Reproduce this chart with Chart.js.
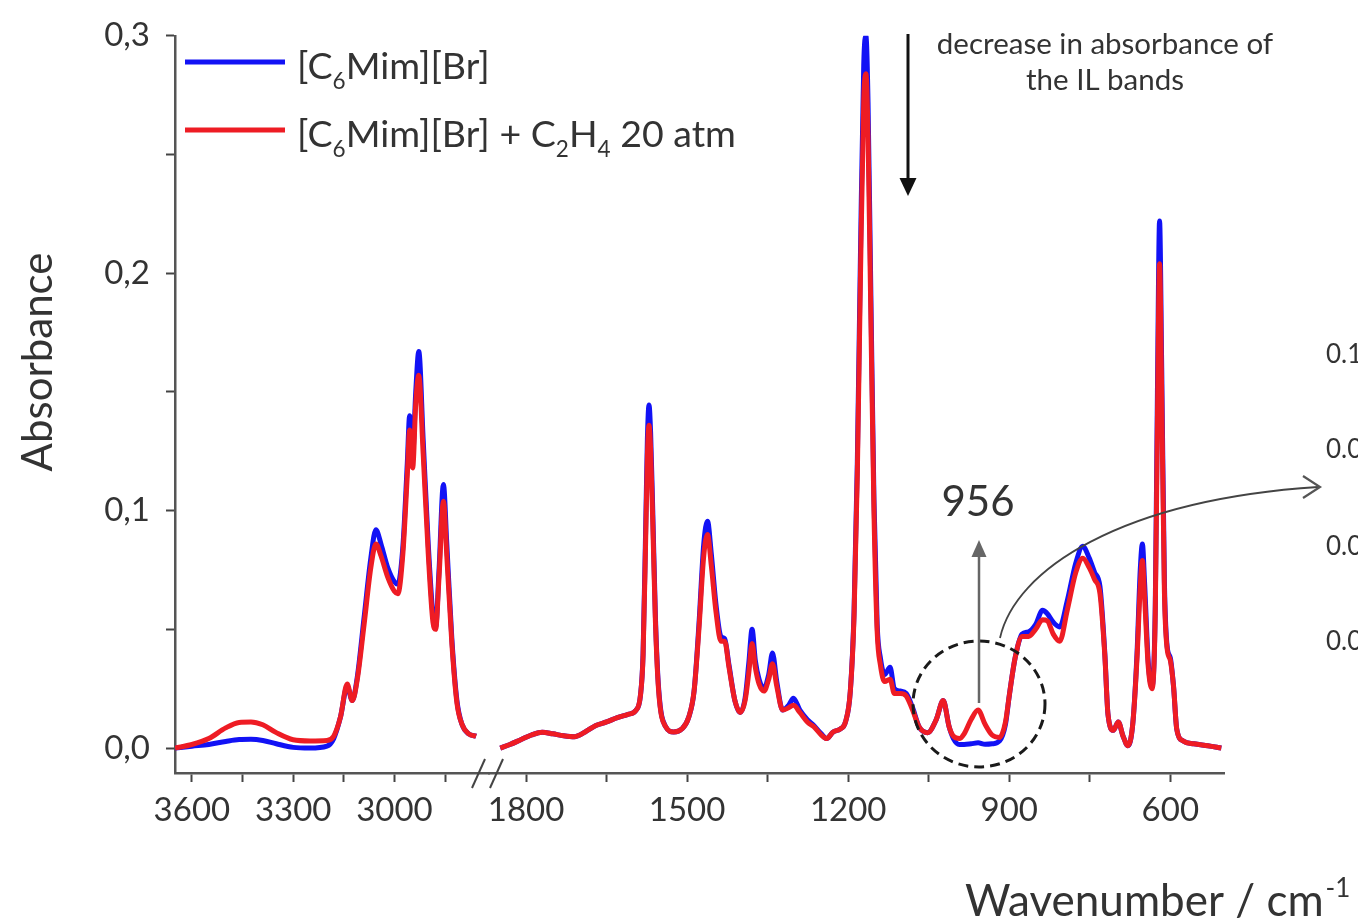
<!DOCTYPE html>
<html>
<head>
<meta charset="utf-8">
<script src="https://cdn.jsdelivr.net/npm/chart.js@4.4.0/dist/chart.umd.min.js"></script>
<style>
  html, body { margin: 0; padding: 0; background: #fff; }
  canvas { display: block; }
</style>
</head>
<body>
<canvas id="spectrum" width="1358" height="924"></canvas>
<script>
// high wavenumber part (left of the axis break)
const leftWn = [3650, 3600, 3550, 3500, 3460, 3425, 3390, 3350, 3300, 3250, 3200, 3180, 3160, 3140, 3125, 3110, 3090, 3070, 3055, 3040, 3020, 3000, 2990, 2975, 2962, 2955, 2946, 2937, 2928, 2915, 2900, 2886, 2878, 2868, 2855, 2845, 2830, 2815, 2800, 2780, 2758];
const leftBlue = [0.000, 0.0008, 0.0015, 0.0028, 0.0036, 0.0037, 0.0032, 0.0018, 0.0003, 0.000, 0.0008, 0.004, 0.013, 0.026, 0.020, 0.030, 0.055, 0.080, 0.092, 0.086, 0.076, 0.070, 0.069, 0.085, 0.120, 0.140, 0.124, 0.150, 0.167, 0.130, 0.086, 0.056, 0.051, 0.075, 0.111, 0.086, 0.046, 0.020, 0.010, 0.006, 0.005];
const leftRed = [0.000, 0.0015, 0.004, 0.0085, 0.0108, 0.011, 0.0098, 0.0065, 0.0035, 0.003, 0.0032, 0.005, 0.013, 0.027, 0.020, 0.029, 0.052, 0.076, 0.086, 0.081, 0.072, 0.066, 0.065, 0.082, 0.115, 0.134, 0.118, 0.145, 0.157, 0.124, 0.082, 0.053, 0.050, 0.072, 0.104, 0.081, 0.044, 0.019, 0.010, 0.006, 0.005];

// fingerprint part (right of the axis break)
const rightWn = [1848, 1830, 1810, 1790, 1770, 1750, 1730, 1710, 1690, 1670, 1650, 1630, 1610, 1595, 1587, 1582, 1577, 1574, 1571, 1568, 1564, 1559, 1553, 1540, 1525, 1510, 1497, 1487, 1478, 1469, 1462, 1455, 1446, 1437, 1430, 1422, 1411, 1401, 1392, 1385, 1379, 1373, 1366, 1357, 1348, 1341, 1333, 1322, 1311, 1302, 1290, 1276, 1264, 1250, 1240, 1228, 1215, 1205, 1196, 1189, 1183, 1177, 1171, 1167, 1163, 1158, 1152, 1146, 1140, 1132, 1122, 1114, 1103, 1092, 1080, 1068, 1052, 1036, 1023, 1012, 1004, 993, 984, 971, 958, 945, 932, 918, 907, 900, 889, 876, 864, 851, 838, 829, 818, 806, 792, 776, 763, 751, 741, 731, 722, 716, 706, 697, 688, 679, 670, 662, 656, 652, 648, 641, 634, 628, 624, 620, 616, 611, 606, 600, 594, 588, 576, 556, 530, 505];
const rightBlue = [0.000, 0.0015, 0.0035, 0.0055, 0.0067, 0.006, 0.0052, 0.0048, 0.0068, 0.0095, 0.011, 0.0128, 0.0142, 0.016, 0.022, 0.040, 0.095, 0.130, 0.1445, 0.133, 0.100, 0.055, 0.025, 0.009, 0.0068, 0.008, 0.013, 0.024, 0.052, 0.086, 0.0955, 0.082, 0.060, 0.047, 0.046, 0.035, 0.020, 0.015, 0.021, 0.036, 0.050, 0.037, 0.029, 0.025, 0.031, 0.040, 0.028, 0.016, 0.018, 0.021, 0.016, 0.012, 0.0095, 0.006, 0.004, 0.0068, 0.008, 0.011, 0.024, 0.058, 0.120, 0.210, 0.288, 0.300, 0.272, 0.195, 0.105, 0.052, 0.038, 0.031, 0.034, 0.025, 0.024, 0.023, 0.017, 0.009, 0.0065, 0.012, 0.020, 0.009, 0.004, 0.0015, 0.0015, 0.0018, 0.0022, 0.0016, 0.0018, 0.003, 0.010, 0.022, 0.038, 0.048, 0.049, 0.052, 0.058, 0.0566, 0.053, 0.051, 0.062, 0.078, 0.085, 0.080, 0.074, 0.068, 0.040, 0.014, 0.0075, 0.011, 0.005, 0.001, 0.010, 0.040, 0.075, 0.086, 0.070, 0.036, 0.026, 0.060, 0.150, 0.222, 0.160, 0.070, 0.043, 0.038, 0.026, 0.008, 0.003, 0.0018, 0.001, 0.000];
const rightRed = [0.000, 0.0015, 0.0035, 0.0055, 0.0067, 0.006, 0.0052, 0.0048, 0.0068, 0.0095, 0.011, 0.0128, 0.0142, 0.016, 0.022, 0.039, 0.090, 0.123, 0.136, 0.126, 0.095, 0.053, 0.024, 0.009, 0.0068, 0.008, 0.013, 0.024, 0.050, 0.081, 0.090, 0.077, 0.057, 0.045, 0.045, 0.034, 0.020, 0.015, 0.020, 0.032, 0.044, 0.034, 0.027, 0.024, 0.029, 0.0355, 0.026, 0.016, 0.017, 0.018, 0.015, 0.011, 0.009, 0.0055, 0.004, 0.0068, 0.008, 0.011, 0.024, 0.056, 0.115, 0.200, 0.273, 0.284, 0.258, 0.185, 0.100, 0.049, 0.035, 0.028, 0.029, 0.023, 0.023, 0.022, 0.016, 0.009, 0.0065, 0.012, 0.020, 0.009, 0.005, 0.004, 0.006, 0.012, 0.016, 0.010, 0.0055, 0.0045, 0.011, 0.022, 0.038, 0.047, 0.047, 0.050, 0.054, 0.0536, 0.048, 0.045, 0.058, 0.074, 0.080, 0.076, 0.071, 0.065, 0.039, 0.014, 0.0075, 0.011, 0.005, 0.001, 0.010, 0.038, 0.068, 0.079, 0.064, 0.034, 0.025, 0.057, 0.138, 0.204, 0.148, 0.066, 0.042, 0.037, 0.026, 0.008, 0.003, 0.0018, 0.001, 0.000];

const leftMajor = [3600, 3300, 3000];
const leftMinor = [3450, 3150, 2850];
const rightMajor = [1800, 1500, 1200, 900, 600];
const rightMinor = [1650, 1350, 1050, 750];
const yMajor = [0, 0.1, 0.2, 0.3];
const yMinor = [0.05, 0.15, 0.25];

const seriesNames = [
  [['[C', false], ['6', true], ['Mim][Br]', false]],
  [['[C', false], ['6', true], ['Mim][Br] + C', false], ['2', true], ['H', false], ['4', true], [' 20 atm', false]]
];
const insetLabels = ['0.1', '0.0', '0.0', '0.0'];

const BLUE = '#1212f5';
const RED = '#ee1c24';
const TEXT = '#333';

function toPoints(xs, ys) {
  return xs.map((x, i) => ({ x: x, y: ys[i] }));
}

function lineSet(label, xs, ys, color, axis, order) {
  return {
    label: label,
    data: toPoints(xs, ys),
    xAxisID: axis,
    borderColor: color,
    borderWidth: 5,
    pointRadius: 0,
    cubicInterpolationMode: 'monotone',
    order: order
  };
}

function drawRich(ctx, parts, x, y, size) {
  for (const [text, sub] of parts) {
    const s = sub ? size * 0.6 : size;
    ctx.font = s + 'px Lato';
    ctx.fillText(text, x, sub ? y + size * 0.27 : y);
    x += ctx.measureText(text).width;
  }
}

function arrowHead(ctx, x, y, dir, w, h) {
  ctx.beginPath();
  ctx.moveTo(x, y);
  ctx.lineTo(x - w / 2, y - dir * h);
  ctx.lineTo(x + w / 2, y - dir * h);
  ctx.closePath();
  ctx.fill();
}

const annotations = {
  id: 'annotations',
  afterDraw(chart) {
    const ctx = chart.ctx;
    ctx.save();

    // legend inside plot
    const swatchY = [62, 130];
    const textY = [79, 147];
    [BLUE, RED].forEach((c, i) => {
      ctx.strokeStyle = c;
      ctx.lineWidth = 5;
      ctx.beginPath();
      ctx.moveTo(185, swatchY[i]);
      ctx.lineTo(285, swatchY[i]);
      ctx.stroke();
      ctx.fillStyle = TEXT;
      ctx.textAlign = 'left';
      ctx.textBaseline = 'alphabetic';
      drawRich(ctx, seriesNames[i], 297, textY[i], 37.5);
    });

    // axis break marks
    ctx.strokeStyle = '#444';
    ctx.lineWidth = 2;
    [472, 490].forEach(x0 => {
      ctx.beginPath();
      ctx.moveTo(x0, 788);
      ctx.lineTo(x0 + 13, 759);
      ctx.stroke();
    });

    // axis titles
    ctx.fillStyle = TEXT;
    ctx.save();
    ctx.translate(38, 362);
    ctx.rotate(-Math.PI / 2);
    ctx.font = '42px Lato';
    ctx.textAlign = 'center';
    ctx.textBaseline = 'middle';
    ctx.fillText('Absorbance', 0, 0);
    ctx.restore();

    ctx.textAlign = 'left';
    ctx.textBaseline = 'alphabetic';
    ctx.font = '44px Lato';
    const xt = 'Wavenumber / cm';
    ctx.fillText(xt, 965, 916);
    const xw = ctx.measureText(xt).width;
    ctx.font = '26px Lato';
    ctx.fillText('-1', 965 + xw + 2, 897);

    // decrease arrow + note
    ctx.strokeStyle = '#111';
    ctx.fillStyle = '#111';
    ctx.lineWidth = 3;
    ctx.beginPath();
    ctx.moveTo(908, 34);
    ctx.lineTo(908, 180);
    ctx.stroke();
    arrowHead(ctx, 908, 196, 1, 17, 18);

    ctx.fillStyle = TEXT;
    ctx.font = '29.5px Lato';
    ctx.textAlign = 'center';
    ctx.textBaseline = 'middle';
    ctx.fillText('decrease in absorbance of', 1105, 44);
    ctx.fillText('the IL bands', 1105, 80);

    // dashed circle round the 956 band
    ctx.strokeStyle = '#1a1a1a';
    ctx.lineWidth = 3;
    ctx.setLineDash([10, 6]);
    ctx.beginPath();
    ctx.ellipse(979, 704, 66, 63, 0, 0, Math.PI * 2);
    ctx.stroke();
    ctx.setLineDash([]);

    // grey up arrow + 956
    ctx.strokeStyle = '#666';
    ctx.fillStyle = '#666';
    ctx.lineWidth = 2.5;
    ctx.beginPath();
    ctx.moveTo(979, 703);
    ctx.lineTo(979, 556);
    ctx.stroke();
    arrowHead(ctx, 979, 540, -1, 15, 17);

    ctx.fillStyle = TEXT;
    ctx.font = '42px Lato';
    ctx.fillText('956', 978, 502);

    // curved pointer to inset
    ctx.strokeStyle = '#444';
    ctx.lineWidth = 1.8;
    ctx.beginPath();
    ctx.moveTo(1000, 638);
    ctx.bezierCurveTo(1015, 570, 1120, 500, 1318, 487);
    ctx.stroke();
    ctx.strokeStyle = '#555';
    ctx.lineWidth = 2.2;
    ctx.beginPath();
    ctx.moveTo(1303, 476);
    ctx.lineTo(1320, 487);
    ctx.lineTo(1303, 498);
    ctx.stroke();

    // inset tick labels, cut by the page edge
    ctx.fillStyle = TEXT;
    ctx.font = '26px Lato';
    ctx.textAlign = 'left';
    [355, 450, 547, 642].forEach((y, i) => ctx.fillText(insetLabels[i], 1326, y));

    ctx.restore();
  }
};

const tickFont = { family: 'Lato', size: 33 };

new Chart(document.getElementById('spectrum'), {
  type: 'line',
  data: {
    datasets: [
      lineSet('[C6Mim][Br]', leftWn, leftBlue, BLUE, 'xL', 2),
      lineSet('[C6Mim][Br]', rightWn, rightBlue, BLUE, 'xR', 2),
      lineSet('[C6Mim][Br] + C2H4 20 atm', leftWn, leftRed, RED, 'xL', 1),
      lineSet('[C6Mim][Br] + C2H4 20 atm', rightWn, rightRed, RED, 'xR', 1)
    ]
  },
  options: {
    responsive: false,
    animation: false,
    layout: { padding: { left: 0, top: 32, right: 134, bottom: 71 } },
    plugins: { legend: { display: false }, tooltip: { enabled: false } },
    scales: {
      xL: {
        type: 'linear',
        position: 'bottom',
        stack: 'wn',
        stackWeight: 314,
        reverse: true,
        min: 2720,
        max: 3650,
        afterBuildTicks: s => { s.ticks = leftMajor.concat(leftMinor).map(v => ({ value: v })); },
        afterFit: s => { s.height = 80; },
        ticks: {
          autoSkip: false,
          maxRotation: 0,
          padding: 9,
          color: TEXT,
          font: tickFont,
          callback: v => leftMajor.includes(v) ? String(v) : ''
        },
        grid: { drawOnChartArea: false, tickLength: 9, tickWidth: 2, tickColor: '#444' },
        border: { color: '#555', width: 2.5 }
      },
      xR: {
        type: 'linear',
        position: 'bottom',
        stack: 'wn',
        stackWeight: 735,
        reverse: true,
        min: 500,
        max: 1869,
        afterBuildTicks: s => { s.ticks = rightMajor.concat(rightMinor).map(v => ({ value: v })); },
        afterFit: s => { s.height = 80; },
        ticks: {
          autoSkip: false,
          maxRotation: 0,
          padding: 9,
          color: TEXT,
          font: tickFont,
          callback: v => rightMajor.includes(v) ? String(v) : ''
        },
        grid: { drawOnChartArea: false, tickLength: 9, tickWidth: 2, tickColor: '#444' },
        border: { color: '#555', width: 2.5 }
      },
      y: {
        type: 'linear',
        position: 'left',
        min: -0.0105,
        max: 0.3,
        afterBuildTicks: s => { s.ticks = yMajor.concat(yMinor).map(v => ({ value: v })); },
        afterFit: s => { s.width = 175; },
        ticks: {
          autoSkip: false,
          padding: 16,
          color: TEXT,
          font: tickFont,
          callback: v => yMajor.includes(v) ? v.toFixed(1).replace('.', ',') : ''
        },
        grid: { drawOnChartArea: false, tickLength: 9, tickWidth: 2, tickColor: '#444' },
        border: { color: '#555', width: 2.5 }
      }
    }
  },
  plugins: [annotations]
});
</script>
</body>
</html>
